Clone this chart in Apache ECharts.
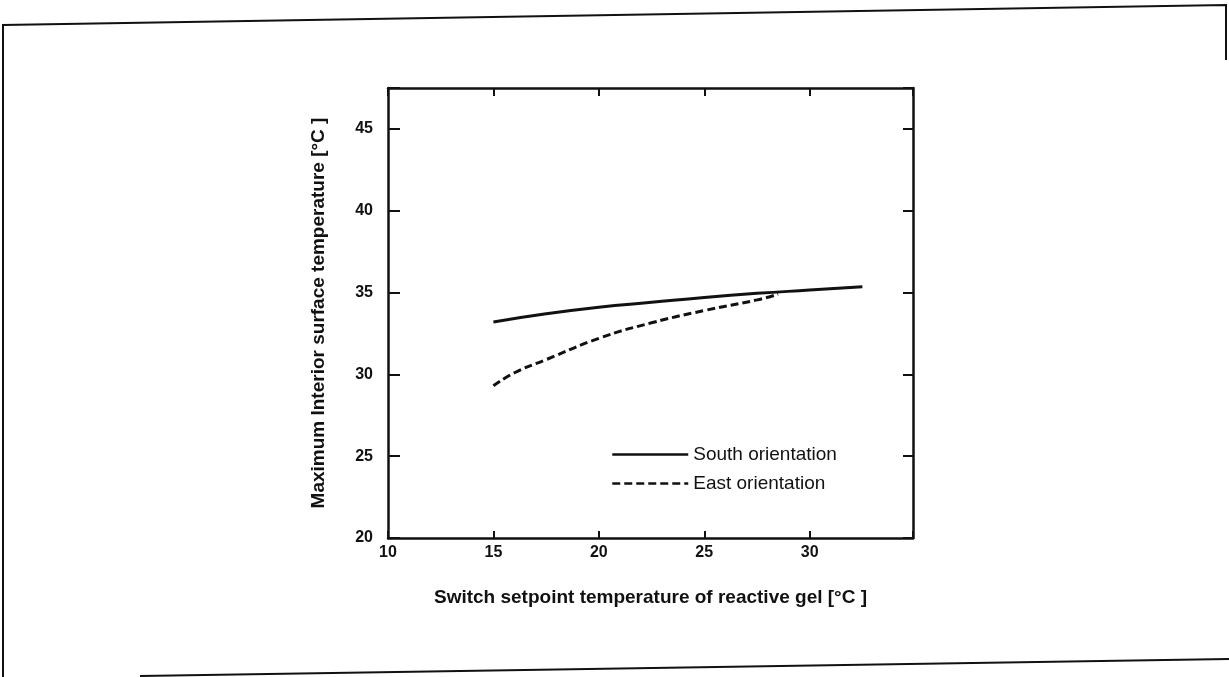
<!DOCTYPE html>
<html>
<head>
<meta charset="utf-8">
<script src="https://cdn.jsdelivr.net/npm/echarts@6/dist/echarts.min.js"></script>
<style>
  html, body { margin: 0; padding: 0; background: #fff; }
  #chart { width: 1229px; height: 677px; }
</style>
</head>
<body>
<div id="chart"></div>
<script>
// Switch setpoint temperature of the reactive gel [°C]
const southSetpoint = [15, 17.5, 20, 22.5, 25, 27.5, 30, 32.5];
// Maximum interior surface temperature, south orientation [°C]
const southTemp = [33.2, 33.7, 34.1, 34.4, 34.7, 34.95, 35.15, 35.35];

const eastSetpoint = [15, 16, 17.5, 20, 22.5, 25, 27.5, 28.5];
// Maximum interior surface temperature, east orientation [°C]
const eastTemp = [29.3, 30.1, 30.9, 32.2, 33.15, 33.9, 34.55, 34.9];

const xTicks = [10, 15, 20, 25, 30];
const yTicks = [20, 25, 30, 35, 40, 45];

const seriesNames = ['South orientation', 'East orientation'];
const xTitle = 'Switch setpoint temperature of reactive gel [°C ]';
const yTitle = 'Maximum Interior surface temperature [°C ]';

const ink = '#111';
const tickFont = { fontFamily: "'Liberation Sans Narrow', 'Liberation Sans', sans-serif", fontWeight: 'bold', fontSize: 16, color: ink };
const titleFont = { fontFamily: "'Liberation Sans', Arial, sans-serif", fontWeight: 'bold', fontSize: 19, color: ink };

const X_MIN = 10, X_MAX = 34.9, Y_MIN = 20, Y_MAX = 47.5;

function pair(xs, ys) { return xs.map((x, i) => [x, ys[i]]); }

function xAxisCfg(pos, showLabel, tickLen) {
  return {
    type: 'value', position: pos, min: X_MIN, max: X_MAX, interval: 5,
    axisLine: { show: true, onZero: false, lineStyle: { color: ink, width: 2.5 } },
    axisTick: { show: true, inside: true, length: tickLen, lineStyle: { color: ink, width: 2 } },
    splitLine: { show: false },
    axisLabel: showLabel ? Object.assign({
      margin: 7,
      formatter: v => (xTicks.indexOf(v) >= 0 ? String(v) : '')
    }, tickFont) : { show: false }
  };
}

function yAxisCfg(pos, showLabel, tickLen) {
  return {
    type: 'value', position: pos, min: Y_MIN, max: Y_MAX, interval: 5,
    axisLine: { show: true, onZero: false, lineStyle: { color: ink, width: 2.5 } },
    axisTick: { show: true, inside: true, length: tickLen, lineStyle: { color: ink, width: 2 } },
    splitLine: { show: false },
    axisLabel: showLabel ? Object.assign({
      margin: 15,
      formatter: v => (yTicks.indexOf(v) >= 0 ? String(v) : '')
    }, tickFont) : { show: false }
  };
}

const chart = echarts.init(document.getElementById('chart'), null, { renderer: 'canvas' });

const xBottom = xAxisCfg('bottom', true, 7);
xBottom.name = xTitle;
xBottom.nameLocation = 'middle';
xBottom.nameGap = 50;
xBottom.nameTextStyle = titleFont;

const yLeft = yAxisCfg('left', true, 12);
yLeft.name = yTitle;
yLeft.nameLocation = 'middle';
yLeft.nameGap = 60;
yLeft.nameTextStyle = titleFont;

chart.setOption({
  backgroundColor: '#fff',
  animation: false,
  grid: { left: 388, top: 88, width: 525, height: 450, containLabel: false },
  xAxis: [xBottom, xAxisCfg('top', false, 8)],
  yAxis: [yLeft, yAxisCfg('right', false, 10)],
  legend: {
    orient: 'vertical',
    left: 611, top: 445, padding: 0,
    itemWidth: 76, itemHeight: 12, itemGap: 10,
    data: seriesNames,
    itemStyle: { opacity: 0 },
    lineStyle: { width: 2.5 },
    textStyle: { fontFamily: "'Liberation Sans', Arial, sans-serif", fontSize: 19, color: ink, lineHeight: 17, padding: [0, 0, 0, 0] }
  },
  series: [
    {
      name: seriesNames[0], type: 'line', xAxisIndex: 0, yAxisIndex: 0,
      data: pair(southSetpoint, southTemp),
      smooth: true, symbol: 'none',
      lineStyle: { color: ink, width: 3, type: 'solid' },
      itemStyle: { color: ink }
    },
    {
      name: seriesNames[1], type: 'line', xAxisIndex: 0, yAxisIndex: 0,
      data: pair(eastSetpoint, eastTemp),
      smooth: true, symbol: 'none',
      lineStyle: { color: ink, width: 3, type: [8, 4] },
      itemStyle: { color: ink }
    }
  ],
  graphic: [
    // outer frame around the figure
    { type: 'polyline', silent: true,
      shape: { points: [[3, 677], [3, 25], [1226, 5], [1226, 60]] },
      style: { stroke: ink, lineWidth: 2, fill: null } },
    { type: 'line', silent: true,
      shape: { x1: 140, y1: 676, x2: 1229, y2: 659 },
      style: { stroke: ink, lineWidth: 2 } }
  ]
});
</script>
</body>
</html>
